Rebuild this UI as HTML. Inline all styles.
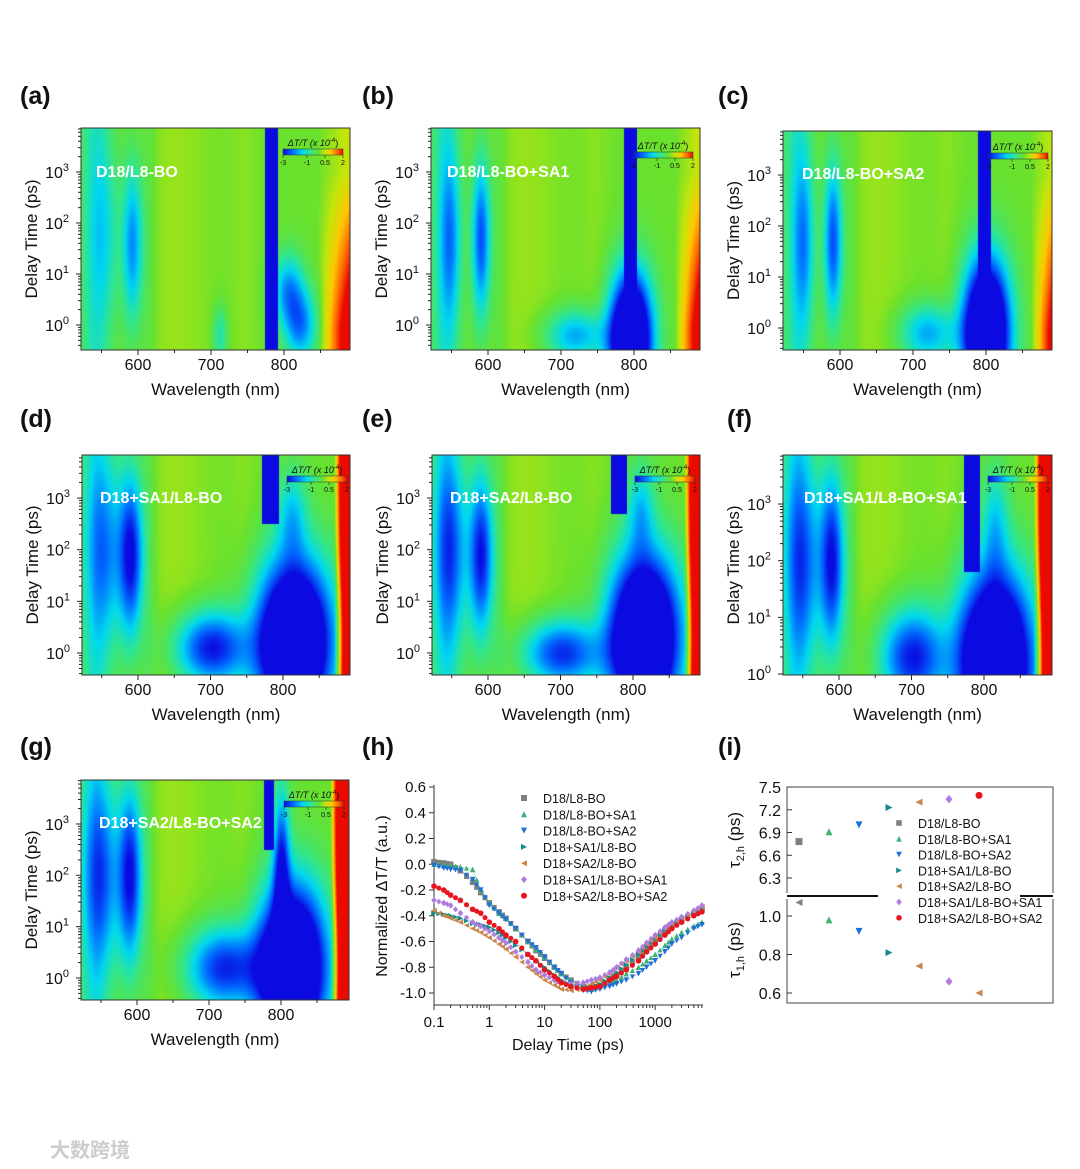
<!DOCTYPE html>
<html><head><meta charset="utf-8">
<style>
body{margin:0;background:#fff;}
#wrap{position:relative;width:1080px;height:1169px;overflow:hidden;background:#fff;font-family:"Liberation Sans","Noto Sans CJK SC",sans-serif;}
canvas{position:absolute;}
svg{position:absolute;left:0;top:0;}
</style></head>
<body>
<div id="wrap">
<svg id="s" width="1080" height="1169"></svg>
</div>
<script>
// ---- Panel (h) data ----
const hTimes=[0.1,0.15,0.2,0.3,0.5,0.7,1,1.5,2,3,5,7,10,15,20,30,50,70,100,150,200,300,500,700,1000,1500,2000,3000,5000,7000];
const hGray=[0.02,0.01,0.0,-0.05,-0.14,-0.22,-0.3,-0.37,-0.42,-0.5,-0.6,-0.67,-0.73,-0.8,-0.85,-0.9,-0.95,-0.96,-0.94,-0.9,-0.86,-0.8,-0.72,-0.66,-0.6,-0.53,-0.48,-0.44,-0.38,-0.35];
const hGreen=[0.0,-0.01,-0.01,-0.02,-0.04,-0.2,-0.3,-0.38,-0.42,-0.5,-0.6,-0.66,-0.72,-0.8,-0.85,-0.9,-0.95,-0.97,-0.95,-0.92,-0.9,-0.85,-0.8,-0.75,-0.7,-0.63,-0.58,-0.53,-0.48,-0.45];
const hBlue=[-0.01,-0.03,-0.04,-0.05,-0.12,-0.2,-0.32,-0.38,-0.43,-0.5,-0.6,-0.65,-0.72,-0.8,-0.85,-0.92,-0.98,-0.99,-0.97,-0.95,-0.93,-0.9,-0.85,-0.8,-0.75,-0.68,-0.62,-0.57,-0.5,-0.47];
const hTeal=[-0.38,-0.39,-0.4,-0.42,-0.46,-0.47,-0.49,-0.53,-0.57,-0.63,-0.7,-0.75,-0.8,-0.86,-0.9,-0.94,-0.96,-0.95,-0.93,-0.88,-0.84,-0.78,-0.7,-0.64,-0.58,-0.51,-0.47,-0.43,-0.38,-0.35];
const hOrange=[-0.36,-0.4,-0.42,-0.45,-0.5,-0.53,-0.57,-0.62,-0.66,-0.72,-0.8,-0.85,-0.9,-0.94,-0.97,-0.98,-0.97,-0.93,-0.9,-0.85,-0.8,-0.75,-0.68,-0.62,-0.57,-0.5,-0.46,-0.42,-0.37,-0.33];
const hPurple=[-0.28,-0.3,-0.32,-0.38,-0.45,-0.48,-0.52,-0.57,-0.61,-0.68,-0.76,-0.82,-0.86,-0.9,-0.92,-0.93,-0.92,-0.9,-0.88,-0.84,-0.8,-0.74,-0.67,-0.61,-0.55,-0.49,-0.45,-0.41,-0.36,-0.32];
const hRed=[-0.17,-0.2,-0.24,-0.28,-0.35,-0.38,-0.45,-0.5,-0.55,-0.6,-0.7,-0.75,-0.82,-0.87,-0.92,-0.95,-0.97,-0.96,-0.95,-0.9,-0.87,-0.82,-0.75,-0.68,-0.62,-0.55,-0.5,-0.45,-0.4,-0.37];
const seriesNames=["D18/L8-BO","D18/L8-BO+SA1","D18/L8-BO+SA2","D18+SA1/L8-BO","D18+SA2/L8-BO","D18+SA1/L8-BO+SA1","D18+SA2/L8-BO+SA2"];
const hYTicks=[0.6,0.4,0.2,0.0,-0.2,-0.4,-0.6,-0.8,-1.0];
const hXTicks=[0.1,1,10,100,1000];
// ---- Panel (i) data ----
const tau2=[6.78,6.91,7.0,7.23,7.3,7.34,7.39];
const tau1=[1.07,0.98,0.92,0.81,0.74,0.66,0.60];
const tau2Ticks=[7.5,7.2,6.9,6.6,6.3];
const tau1Ticks=[1.0,0.8,0.6];

const colors=["#808080","#3cb371","#1e6fd9","#138a8a","#c8864b","#b07be0","#e8141e"];
const shapes=["sq","up","down","right","left","dia","circ"];
const tau1Shapes=["left","up","down","right","left","dia","left"];
const tau1Colors=["#808080","#3cb371","#1e6fd9","#138a8a","#c8864b","#b07be0","#c8864b"];

const NS="http://www.w3.org/2000/svg";
const S=document.getElementById('s');
function el(tag,attrs,parent,txt){const e=document.createElementNS(NS,tag);for(const k in attrs)e.setAttribute(k,attrs[k]);if(txt!==undefined)e.textContent=txt;(parent||S).appendChild(e);return e;}
function label(x,y,t,size,anchor,extra){const e=el('text',Object.assign({x:x,y:y,'font-size':size,'text-anchor':anchor||'middle',fill:'#111','font-family':'Liberation Sans, sans-serif'},extra||{}),S,t);return e;}

// colormap
const stops=[[-3,[10,10,225]],[-2.2,[0,110,255]],[-1.4,[0,215,240]],[-0.7,[50,230,140]],[0,[105,225,45]],[0.5,[195,230,10]],[1.0,[255,200,0]],[1.5,[255,110,0]],[2,[235,10,0]]];
function cmap(v){if(v<=stops[0][0])return stops[0][1];for(let i=1;i<stops.length;i++){if(v<=stops[i][0]){const a=stops[i-1],b=stops[i];const f=(v-a[0])/(b[0]-a[0]);return [0,1,2].map(k=>a[1][k]+(b[1][k]-a[1][k])*f);}}return stops[stops.length-1][1];}
function g(x,c,s){const d=(x-c)/s;return Math.exp(-d*d/2);}
function cl(x,a,b){return Math.max(a,Math.min(b,x));}

const panels=[
 {id:'a',x0:81,x1:350,y0:128,y1:350,p600:138,p800:284,e0:325,e3:172,name:'D18/L8-BO',nx:96,ny:177,
  band:[782,9,-2],blobs:[[592,1.6,10,1.1,-2],[555,1.8,14,1.3,-0.9],[712,-0.2,7,0.4,-1],[805,0.7,15,0.5,-1.8],[822,0,15,0.5,-2]],red:[845,45,'wide'],lab:[20,104],cb:[283,137]},
 {id:'b',x0:431,x1:700,y0:128,y1:350,p600:488,p800:634,e0:325,e3:172,name:'D18/L8-BO+SA1',nx:447,ny:177,
  band:[795,9,-2],blobs:[[795,-0.3,20,0.9,-6],[590,1.7,9,1.1,-2.5],[548,1.7,10,1.2,-1.5],[720,-0.2,30,0.35,-1.8]],red:[855,35,'wide'],lab:[362,104],cb:[633,140]},
 {id:'c',x0:783,x1:1052,y0:131,y1:350,p600:840,p800:986,e0:328,e3:175,name:'D18/L8-BO+SA2',nx:802,ny:179,
  band:[797,9,-2],blobs:[[800,-0.1,22,1.0,-6],[590,1.7,9,1.1,-2.5],[550,1.7,10,1.2,-1.5],[720,-0.1,28,0.4,-1.8]],red:[860,35,'wide'],lab:[718,104],cb:[988,141]},
 {id:'d',x0:82,x1:350,y0:455,y1:675,p600:138,p800:283,e0:653,e3:498,name:'D18+SA1/L8-BO',nx:100,ny:503,
  band:[782,12,2.5],blobs:[[815,0.2,36,1.1,-6],[700,0.1,35,0.5,-3],[590,1.9,12,1.1,-3],[555,2,18,1.3,-1.7],[812,2.7,14,0.6,-1.3]],red:[870,12,'narrow'],lab:[20,427],cb:[287,464]},
 {id:'e',x0:432,x1:700,y0:455,y1:675,p600:488,p800:633,e0:653,e3:498,name:'D18+SA2/L8-BO',nx:450,ny:503,
  band:[780,11,2.7],blobs:[[815,0.3,34,1.1,-6],[700,0.0,38,0.45,-2.8],[590,1.9,12,1.1,-3],[548,2,16,1.3,-2],[810,2.8,13,0.6,-1.3]],red:[870,12,'narrow'],lab:[362,427],cb:[635,464]},
 {id:'f',x0:783,x1:1052,y0:455,y1:675,p600:839,p800:984,e0:674,e3:504,name:'D18+SA1/L8-BO+SA1',nx:804,ny:503,
  band:[783,11,1.8],blobs:[[815,0.2,36,1.1,-6],[700,0.3,32,0.6,-3],[590,2,12,1.1,-3],[550,2,18,1.3,-2],[815,2.7,13,0.7,-1.2]],red:[868,12,'narrow'],lab:[727,427],cb:[988,464]},
 {id:'g',x0:81,x1:349,y0:780,y1:1000,p600:137,p800:281,e0:978,e3:824,name:'D18+SA2/L8-BO+SA2',nx:99,ny:828,
  band:[783,7,2.5],blobs:[[815,0.2,33,1.1,-6],[720,0.2,38,0.55,-2.8],[590,2,12,1.2,-3],[550,2,18,1.3,-2],[800,2.3,8,1.0,-2.5]],red:[868,12,'narrow'],lab:[20,755],cb:[284,789]}
];
const wrap=document.getElementById('wrap');
panels.forEach(P=>{
  const W=P.x1-P.x0,H=P.y1-P.y0;
  const cv=document.createElement('canvas');cv.width=W;cv.height=H;cv.style.left=P.x0+'px';cv.style.top=P.y0+'px';
  
  
  wrap.insertBefore(cv,S);
  const ctx=cv.getContext('2d');const img=ctx.createImageData(W,H);
  const ppn=(P.p800-P.p600)/200,ppd=(P.e0-P.e3)/3;
  for(let j=0;j<H;j++){const L=(P.e0-(P.y0+j))/ppd;
    for(let i=0;i<W;i++){const lam=600+(P.x0+i-P.p600)/ppn;
      let v=-0.9*g(lam,540,14)+0.25*g(lam,650,35)-0.25*g(lam,615,8)+0.15*g(lam,745,15);
      P.blobs.forEach(b=>{v+=b[4]*g(lam,b[0],b[2])*g(L,b[1],b[3]);});
      if(Math.abs(lam-P.band[0])<P.band[1]&&L>P.band[2])v=-5;
      if(P.red[2]==='wide')v+=cl((lam-P.red[0])/P.red[1],0,1)*(0.6+2.2*cl((3-L)/3,0,1));
      else v+=cl((lam-P.red[0])/P.red[1],0,1)*3.2;
      const c=cmap(v);const k=(j*W+i)*4;img.data[k]=c[0];img.data[k+1]=c[1];img.data[k+2]=c[2];img.data[k+3]=255;}}
  ctx.putImageData(img,0,0);
  el('rect',{x:P.x0,y:P.y0,width:W,height:H,fill:'none',stroke:'#333','stroke-width':1});
  for(let lam=550;lam<=850;lam+=50){const x=P.p600+(lam-600)*ppn;const major=lam%100===0;
    el('line',{x1:x,x2:x,y1:P.y1,y2:P.y1+(major?5:3),stroke:'#222'});
    if(major)label(x,P.y1+20,String(lam),16);}
  for(let e=0;e<=3;e++){const y=P.e0-e*ppd;
    el('line',{x1:P.x0-5,x2:P.x0,y1:y,y2:y,stroke:'#222'});
    const t=label(P.x0-12,y+6,'10',16,'end');
    el('tspan',{dy:-7,'font-size':11},t,String(e));
    for(let m=2;m<10;m++){const ym=y-Math.log10(m)*ppd;if(ym>P.y0)el('line',{x1:P.x0-3,x2:P.x0,y1:ym,y2:ym,stroke:'#222'});}
    if(e===0)for(let m=2;m<10;m++){const ym=y+(1-Math.log10(m))*ppd;if(ym<P.y1)el('line',{x1:P.x0-3,x2:P.x0,y1:ym,y2:ym,stroke:'#222'});}
  }
  const xt=label((P.x0+P.x1)/2,P.y1+45,'Wavelength (nm)',17);
  const yc=(P.y0+P.y1)/2;const yt=label(P.x0-44,yc,'Delay Time (ps)',17,'middle',{transform:`rotate(-90 ${P.x0-44} ${yc})`});
  
  const nm=label(P.nx,P.ny,P.name,16,'start',{fill:'#fff','font-weight':'bold'});
  const pl=label(P.lab[0],P.lab[1],'('+P.id+')',25,'start',{'font-weight':'bold'});
  const cx=P.cb[0],cy=P.cb[1];
  const gid='cg'+P.id;const lg=el('linearGradient',{id:gid});
  stops.forEach(s=>el('stop',{offset:((s[0]+3)/5*100)+'%','stop-color':`rgb(${s[1].join(',')})`},lg));
  const ct=label(cx+30,cy+9,'ΔT/T (x 10',9,'middle',{'font-style':'italic'});
  el('tspan',{dy:-4,'font-size':6,'font-style':'normal'},ct,'-4');el('tspan',{dy:4,'font-style':'normal'},ct,')');
  const cr=el('rect',{x:cx,y:cy+12,width:60,height:6,fill:`url(#${gid})`,stroke:'#333','stroke-width':0.5});
  [-3,-1,0.5,2].forEach(v=>{const x=cx+(v+3)/5*60;el('line',{x1:x,x2:x,y1:cy+18,y2:cy+21,stroke:'#222','stroke-width':0.6});label(x,cy+28,String(v),7);});
});

function marker(shape,x,y,r,col,parent,name){let e;
  if(shape==='sq')e=el('rect',{x:x-r,y:y-r,width:2*r,height:2*r,fill:col},parent);
  else if(shape==='circ')e=el('circle',{cx:x,cy:y,r:r,fill:col},parent);
  else{let p;if(shape==='up')p=[[x,y-r],[x+r,y+r],[x-r,y+r]];else if(shape==='down')p=[[x-r,y-r],[x+r,y-r],[x,y+r]];else if(shape==='right')p=[[x-r,y-r],[x+r,y],[x-r,y+r]];else if(shape==='left')p=[[x+r,y-r],[x-r,y],[x+r,y+r]];else p=[[x,y-r*1.2],[x+r,y],[x,y+r*1.2],[x-r,y]];
    e=el('polygon',{points:p.map(q=>q.join(',')).join(' '),fill:col},parent);}
  
  
  return e;}

// ---- Panel h ----
const hx0=434,hx1=703,hy0=787,hy1=1005;
const hX=t=>hx0+(Math.log10(t)+1)*55.3;
const hY=v=>787+(0.6-v)/1.6*206;
const hp=label(362,755,'(h)',25,'start',{'font-weight':'bold'});
el('line',{x1:hx0,x2:hx0,y1:hy0-2,y2:hy1,stroke:'#333'});el('line',{x1:hx0,x2:hx1,y1:hy1,y2:hy1,stroke:'#333'});
hYTicks.forEach(v=>{const y=hY(v);el('line',{x1:hx0-5,x2:hx0,y1:y,y2:y,stroke:'#333'});label(hx0-8,y+5,v.toFixed(1),15,'end');});
hXTicks.forEach(t=>{const x=hX(t);el('line',{x1:x,x2:x,y1:hy1,y2:hy1+5,stroke:'#333'});label(x,hy1+22,String(t),15);
  for(let m=2;m<10;m++){const xm=hX(t*m);if(xm<hx1)el('line',{x1:xm,x2:xm,y1:hy1,y2:hy1+3,stroke:'#333'});}});
label(568,1050,'Delay Time (ps)',16);
const hyt=label(387,896,'Normalized ΔT/T (a.u.)',16,'middle',{transform:'rotate(-90 387 896)'});
const hSeries=[hGray,hGreen,hBlue,hTeal,hOrange,hPurple,hRed];
const hg=el('g',{});
hSeries.forEach((arr,si)=>{
  let d='';arr.forEach((v,i)=>{d+=(i?'L':'M')+hX(hTimes[i]).toFixed(1)+','+hY(v).toFixed(1);});
  el('path',{d:d,fill:'none',stroke:colors[si],'stroke-width':0.6,opacity:0.5},hg);
  arr.forEach((v,i)=>{if(i<arr.length-1){const t2=Math.sqrt(hTimes[i]*hTimes[i+1]);const v2=(v+arr[i+1])/2;marker(shapes[si],hX(t2),hY(v2),2.5,colors[si],hg,'point');}
    marker(shapes[si],hX(hTimes[i]),hY(v),2.8,colors[si],hg,'point');});
});
seriesNames.forEach((n,i)=>{const y=802+i*16.3;marker(shapes[i],524,y-4,3,colors[i],S,'legend-marker');label(543,y+1,n,12.5,'start');});

// ---- Panel i ----
const ix0=787,ix1=1053,iy0=787,iy1=1003;
const ip=label(718,755,'(i)',25,'start',{'font-weight':'bold'});
el('rect',{x:ix0,y:iy0,width:ix1-ix0,height:iy1-iy0,fill:'none',stroke:'#444'});
const iY2=v=>787+(7.5-v)/0.3*22.75;
const iY1=v=>916+(1.0-v)/0.4*77;
const iX=i=>799+i*30;
tau2Ticks.forEach(v=>{const y=iY2(v);el('line',{x1:ix0,x2:ix0+5,y1:y,y2:y,stroke:'#333'});label(ix0-6,y+6,v.toFixed(1),16,'end');});
tau1Ticks.forEach(v=>{const y=iY1(v);el('line',{x1:ix0,x2:ix0+5,y1:y,y2:y,stroke:'#333'});label(ix0-6,y+6,v.toFixed(1),16,'end');});
el('rect',{x:ix0-3,y:893,width:ix1-ix0+6,height:6,fill:'#fff'});
el('line',{x1:ix0,x2:878,y1:896,y2:896,stroke:'#111','stroke-width':2});
el('line',{x1:1020,x2:ix1,y1:896,y2:896,stroke:'#111','stroke-width':2});
tau2.forEach((v,i)=>marker(shapes[i],iX(i),iY2(v),3.5,colors[i],S,'tau2-point'));
tau1.forEach((v,i)=>marker(tau1Shapes[i],iX(i),iY1(v),3.5,tau1Colors[i],S,'tau1-point'));
const t2l=label(740,840,'τ',17,'middle',{transform:'rotate(-90 740 840)'});el('tspan',{dy:4,'font-size':11},t2l,'2,h');el('tspan',{dy:-4},t2l,' (ps)');
const t1l=label(740,950,'τ',17,'middle',{transform:'rotate(-90 740 950)'});el('tspan',{dy:4,'font-size':11},t1l,'1,h');el('tspan',{dy:-4},t1l,' (ps)');
seriesNames.forEach((n,i)=>{const y=827+i*15.8;marker(shapes[i],899,y-4,2.8,colors[i],S,'legend-marker');label(918,y+1,n,12.5,'start');});

const wm=label(50,1157,'大数跨境',20,'start',{fill:'#ccc','font-weight':'bold','font-family':'Noto Sans CJK SC, sans-serif'});
</script>
</body></html>
